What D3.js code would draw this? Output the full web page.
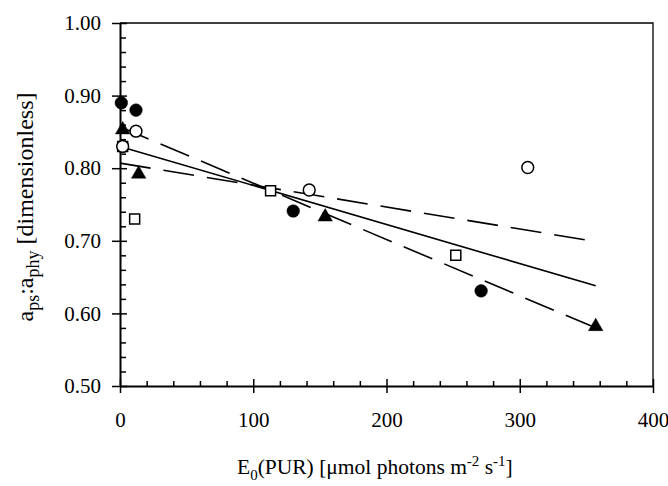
<!DOCTYPE html>
<html><head><meta charset="utf-8">
<script src="https://cdn.jsdelivr.net/npm/d3@7/dist/d3.min.js"></script>
<style>body{margin:0;background:#fff}svg{display:block}</style>
</head><body>
<svg id="chart" width="668" height="486"></svg>
<script>
// ---- data ----
const filledCircleX = [1, 12, 130, 271];
const filledCircleY = [0.890, 0.880, 0.741, 0.631];
const openCircleX = [2, 12, 142, 306];
const openCircleY = [0.830, 0.851, 0.770, 0.801];
const triangleX = [2, 14, 154, 357];
const triangleY = [0.853, 0.792, 0.733, 0.582];
const squareX = [2, 11, 113, 252];
const squareY = [0.830, 0.730, 0.769, 0.680];
const solidLineX = [0, 357];
const solidLineY = [0.830, 0.638];
const steepDashX = [0, 357];
const steepDashY = [0.857, 0.580];
const shallowDashX = [0, 357];
const shallowDashY = [0.807, 0.699];
const xMajorTicks = [0, 100, 200, 300, 400];
const xMinorTicks = [20, 40, 60, 80, 120, 140, 160, 180, 220, 240, 260, 280, 320, 340, 360, 380];
const yMajorTicks = [0.5, 0.6, 0.7, 0.8, 0.9, 1.0];
const yMinorTicks = [0.52, 0.54, 0.56, 0.58, 0.62, 0.64, 0.66, 0.68, 0.72, 0.74, 0.76, 0.78, 0.82, 0.84, 0.86, 0.88, 0.92, 0.94, 0.96, 0.98];

// ---- layout ----
const L = 120, R = 653, T = 23, B = 386;
const FONT = "'Liberation Serif','Times New Roman',serif";
const svg = d3.select("#chart");
const x = d3.scaleLinear().domain([0, 400]).range([L, R]);
const y = d3.scaleLinear().domain([0.5, 1.0]).range([B, T]);
const zip = (a, b) => a.map((v, i) => [v, b[i]]);

// frame (top and right)
svg.append("path")
  .attr("d", `M${L},${T}H${R}V${B}`)
  .attr("fill", "none").attr("stroke", "#000").attr("stroke-width", 1.3);

// y axis: outer major ticks with labels
const gy = svg.append("g").attr("transform", `translate(${L},0)`)
  .call(d3.axisLeft(y).tickValues(yMajorTicks).tickSize(8).tickSizeOuter(0)
    .tickPadding(11).tickFormat(d3.format(".2f")));
gy.select(".domain").attr("stroke-width", 2);
gy.selectAll(".tick line").attr("stroke-width", 1.5);
gy.selectAll("text").attr("font-family", FONT).attr("font-size", 21).attr("fill", "#000");
// inner ticks
const gyi = svg.append("g").attr("transform", `translate(${L},0)`)
  .call(d3.axisRight(y).tickValues(yMinorTicks).tickSize(6).tickFormat(""));
gyi.select(".domain").remove();
gyi.selectAll(".tick line").attr("stroke-width", 1.5);
const gyj = svg.append("g").attr("transform", `translate(${L},0)`)
  .call(d3.axisRight(y).tickValues(yMajorTicks).tickSize(7).tickFormat(""));
gyj.select(".domain").remove();
gyj.selectAll(".tick line").attr("stroke-width", 1.5);

// x axis
const gx = svg.append("g").attr("transform", `translate(0,${B})`)
  .call(d3.axisBottom(x).tickValues(xMajorTicks).tickSize(7).tickSizeOuter(0)
    .tickPadding(19).tickFormat(d3.format("d")));
gx.select(".domain").attr("stroke-width", 2);
gx.selectAll(".tick line").attr("stroke-width", 1.5);
gx.selectAll("text").attr("font-family", FONT).attr("font-size", 21).attr("fill", "#000");
const gxi = svg.append("g").attr("transform", `translate(0,${B})`)
  .call(d3.axisTop(x).tickValues(xMinorTicks).tickSize(5).tickFormat(""));
gxi.select(".domain").remove();
gxi.selectAll(".tick line").attr("stroke-width", 1.5);
const gxj = svg.append("g").attr("transform", `translate(0,${B})`)
  .call(d3.axisTop(x).tickValues(xMajorTicks).tickSize(7).tickFormat(""));
gxj.select(".domain").remove();
gxj.selectAll(".tick line").attr("stroke-width", 1.5);

// regression lines
const line = d3.line().x(d => x(d[0])).y(d => y(d[1]));
svg.append("path").datum(zip(solidLineX, solidLineY)).attr("d", line)
  .attr("fill", "none").attr("stroke", "#000").attr("stroke-width", 1.6);
svg.append("path").datum(zip(steepDashX, steepDashY)).attr("d", line)
  .attr("fill", "none").attr("stroke", "#000").attr("stroke-width", 1.6)
  .attr("stroke-dasharray", "31,13");
svg.append("path").datum(zip(shallowDashX, shallowDashY)).attr("d", line)
  .attr("fill", "none").attr("stroke", "#000").attr("stroke-width", 1.6)
  .attr("stroke-dasharray", "31,13");

// markers
const sym = (type, size) => d3.symbol().type(type).size(size)();
function markers(xs, ys, type, size, filled) {
  svg.append("g").selectAll("path").data(zip(xs, ys)).join("path")
    .attr("transform", d => `translate(${x(d[0])},${y(d[1])})`)
    .attr("d", sym(type, size))
    .attr("fill", filled ? "#000" : "#fff")
    .attr("stroke", "#000").attr("stroke-width", filled ? 0.5 : 1.5);
}
markers(squareX, squareY, d3.symbolSquare, 100, false);
markers(openCircleX, openCircleY, d3.symbolCircle, 110, false);
markers(filledCircleX, filledCircleY, d3.symbolCircle, 125, true);
markers(triangleX, triangleY, d3.symbolTriangle, 90, true);

// axis titles
const yt = svg.append("text")
  .attr("transform", `translate(33,207) rotate(-90)`)
  .attr("text-anchor", "middle")
  .attr("font-family", FONT).attr("font-size", 24).attr("fill", "#000");
yt.append("tspan").text("a");
yt.append("tspan").attr("dy", 6).attr("font-size", 18).text("ps");
yt.append("tspan").attr("dy", -6).text(":a");
yt.append("tspan").attr("dy", 6).attr("font-size", 18).text("phy");
yt.append("tspan").attr("dy", -6).text(" [dimensionless]");

const xt = svg.append("text")
  .attr("x", 237).attr("y", 474)
  .attr("font-family", FONT).attr("font-size", 21.5).attr("fill", "#000");
xt.append("tspan").text("E");
xt.append("tspan").attr("dy", 6).attr("font-size", 15).text("0");
xt.append("tspan").attr("dy", -6).text("(PUR) [μmol photons m");
xt.append("tspan").attr("dy", -8).attr("font-size", 15).text("-2");
xt.append("tspan").attr("dy", 8).text(" s");
xt.append("tspan").attr("dy", -8).attr("font-size", 15).text("-1");
xt.append("tspan").attr("dy", 8).text("]");
</script>
</body></html>
